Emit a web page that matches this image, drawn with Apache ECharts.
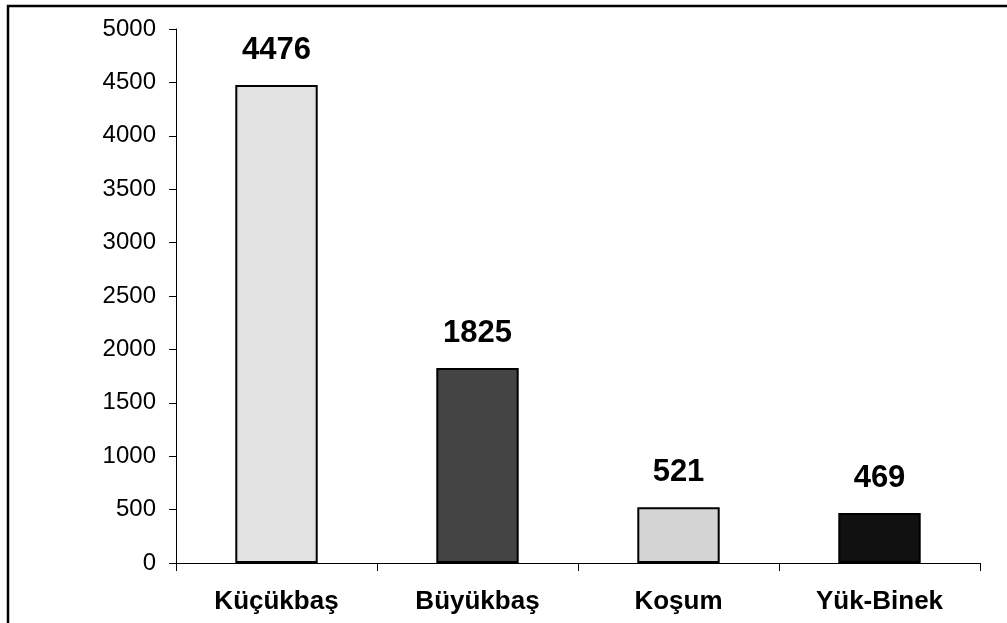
<!DOCTYPE html>
<html><head><meta charset="utf-8">
<script src="https://cdn.jsdelivr.net/npm/echarts@6/dist/echarts.min.js"></script>
<style>html,body{margin:0;padding:0;background:#fff}#c{width:1007px;height:623px}</style>
</head><body><div id="c"></div>
<script>
const categories = ['Küçükbaş', 'Büyükbaş', 'Koşum', 'Yük-Binek'];
const values = [4476, 1825, 521, 469];
const barColors = ['#e3e3e3', '#444444', '#d4d4d4', '#111111'];
const yTicks = { min: 0, max: 5000, interval: 500 };

const chart = echarts.init(document.getElementById('c'), null, { renderer: 'canvas' });
chart.setOption({
  animation: false,
  backgroundColor: '#fff',
  graphic: [{
    type: 'rect', shape: { x: 8, y: 6, width: 1100, height: 700 },
    style: { fill: 'none', stroke: '#000', lineWidth: 2.5 }, z: 100
  }],
  grid: { left: 176, right: 27, top: 29, bottom: 60 },
  xAxis: {
    type: 'category', data: categories,
    axisLine: { lineStyle: { color: '#000', width: 1 } },
    axisTick: { show: true, length: 8, lineStyle: { color: '#000' } },
    axisLabel: { color: '#000', fontFamily: 'Liberation Sans, Arial', fontWeight: 'bold', fontSize: 26, margin: 26 }
  },
  yAxis: {
    type: 'value', min: yTicks.min, max: yTicks.max, interval: yTicks.interval,
    splitLine: { show: false },
    axisLine: { show: true, lineStyle: { color: '#000', width: 1 } },
    axisTick: { show: true, length: 7, lineStyle: { color: '#000' } },
    axisLabel: { color: '#000', fontFamily: 'Liberation Sans, Arial', fontSize: 24, margin: 20, formatter: v => String(v) }
  },
  series: [{
    type: 'bar', barWidth: '41%',
    data: values.map((v, i) => ({ value: v, itemStyle: { color: barColors[i] } })),
    itemStyle: { borderColor: '#000', borderWidth: 2 },
    label: { show: true, position: 'top', distance: 19, color: '#000', fontFamily: 'Liberation Sans, Arial', fontWeight: 'bold', fontSize: 31 }
  }]
});
</script></body></html>
